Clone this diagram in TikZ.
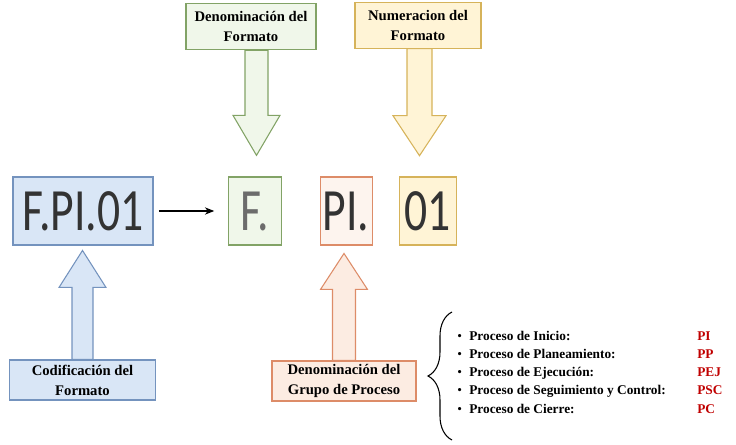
\documentclass[tikz,border=0pt]{standalone}
\usepackage{fontspec}
\setmainfont{Liberation Serif}
\newfontfamily\codefont[FakeStretch=0.76]{Carlito}
\usetikzlibrary{positioning, arrows.meta, calc, backgrounds, decorations.pathreplacing}
\definecolor{bluefill}{HTML}{D9E6F6}
\definecolor{blueline}{HTML}{7493BE}
\definecolor{greenfill}{HTML}{F0F7EA}
\definecolor{greenline}{HTML}{82A366}
\definecolor{orangefill}{HTML}{FCECE2}
\definecolor{orangeline}{HTML}{DD8C68}
\definecolor{yellowfill}{HTML}{FFF4D6}
\definecolor{yellowline}{HTML}{D6B35A}
\definecolor{codegray}{HTML}{333333}
\definecolor{codered}{HTML}{C00000}
\tikzset{
  codebox/.style={
    draw, line width=0.8pt, minimum height=51pt, inner sep=0pt,
    font=\codefont\fontsize{45}{45}\selectfont, text=codegray
  },
  lblbox/.style={
    draw, line width=0.8pt, align=center, inner sep=0pt,
    font=\bfseries\fontsize{11}{15}\selectfont
  },
  blockarrow/.style={line width=0.8pt, line join=miter},
  linkarrow/.style={-{Stealth[length=7pt, width=5.5pt]}, line width=0.8pt,
    shorten <=4pt, shorten >=10pt}
}

\begin{document}
\begin{tikzpicture}[x=0.75pt, y=-0.75pt]
  \useasboundingbox (0,0) rectangle (736,445);

  % codes
  \node[codebox, fill=bluefill, draw=blueline, minimum width=105pt] (fpi) at (83,211) {F.PI.01};
  \node[codebox, fill=greenfill, draw=greenline, minimum width=39.75pt, text=gray!85!black,
    right=55.5pt of fpi] (fcode) {F.};
  \node[codebox, fill=orangefill!60, draw=orangeline, minimum width=39pt,
    right=28.5pt of fcode] (picode) {PI.};
  \node[codebox, fill=yellowfill, draw=yellowline, minimum width=42.75pt,
    right=19.5pt of picode] (numcode) {01};
  \draw[linkarrow] (fpi) -- (fcode);

  % callouts
  \node[lblbox, fill=greenfill, draw=greenline, minimum width=97.5pt, minimum height=35pt]
    (denlbl) at (251,26.5) {Denominación del\\Formato};
  \node[lblbox, fill=yellowfill, draw=yellowline, minimum width=94.5pt, minimum height=34pt]
    (numlbl) at (418,25.5) {Numeracion del\\Formato};
  \node[lblbox, fill=bluefill, draw=blueline, minimum width=109pt, minimum height=30pt]
    (codlbl) at (82.5,380) {Codificación del\\Formato};
  \node[lblbox, fill=orangefill, draw=orangeline, minimum width=108pt, minimum height=30pt]
    (grplbl) at (344,381) {Denominación del\\Grupo de Proceso};

  \begin{scope}[on background layer]
    \draw[blockarrow, fill=greenfill, draw=greenline] ($(denlbl.south)+(-6,0)$)
      -- ++(0,65) -- ++(-12,0) -- ++(23.5,40) -- ++(23.5,-40) -- ++(-12,0) -- ++(0,-65) -- cycle;
    \draw[blockarrow, fill=yellowfill, draw=yellowline] ($(numlbl.south)+(-11,0)$)
      -- ++(0,67) -- ++(-14,0) -- ++(26.5,40) -- ++(26.5,-40) -- ++(-14,0) -- ++(0,-67) -- cycle;
    \draw[blockarrow, fill=bluefill, draw=blueline] ($(codlbl.north)+(-10.5,0)$)
      -- ++(0,-72) -- ++(-13,0) -- ++(23.5,-37) -- ++(23.5,37) -- ++(-13,0) -- ++(0,72) -- cycle;
    \draw[blockarrow, fill=orangefill, draw=orangeline] ($(grplbl.north)+(-11.5,0)$)
      -- ++(0,-71) -- ++(-12,0) -- ++(23.5,-36) -- ++(23.5,36) -- ++(-12,0) -- ++(0,71) -- cycle;
  \end{scope}

  % process groups
  \coordinate (brtop) at (452,312);
  \coordinate (brbot) at (452,440);
  \draw[decorate, decoration={brace, amplitude=18pt}, line width=0.8pt] (brbot) -- (brtop);
  \node[anchor=north west, inner sep=0pt, align=left,
    font=\bfseries\fontsize{10}{13.7}\selectfont] (proclist) at (457,330.5) {%
    \makebox[9pt][l]{\mdseries\textbullet}\makebox[171pt][l]{Proceso de Inicio:}\textcolor{codered}{PI}\\
    \makebox[9pt][l]{\mdseries\textbullet}\makebox[171pt][l]{Proceso de Planeamiento:}\textcolor{codered}{PP}\\
    \makebox[9pt][l]{\mdseries\textbullet}\makebox[171pt][l]{Proceso de Ejecución:}\textcolor{codered}{PEJ}\\
    \makebox[9pt][l]{\mdseries\textbullet}\makebox[171pt][l]{Proceso de Seguimiento y Control:}\textcolor{codered}{PSC}\\
    \makebox[9pt][l]{\mdseries\textbullet}\makebox[171pt][l]{Proceso de Cierre:}\textcolor{codered}{PC}};
\end{tikzpicture}
\end{document}
